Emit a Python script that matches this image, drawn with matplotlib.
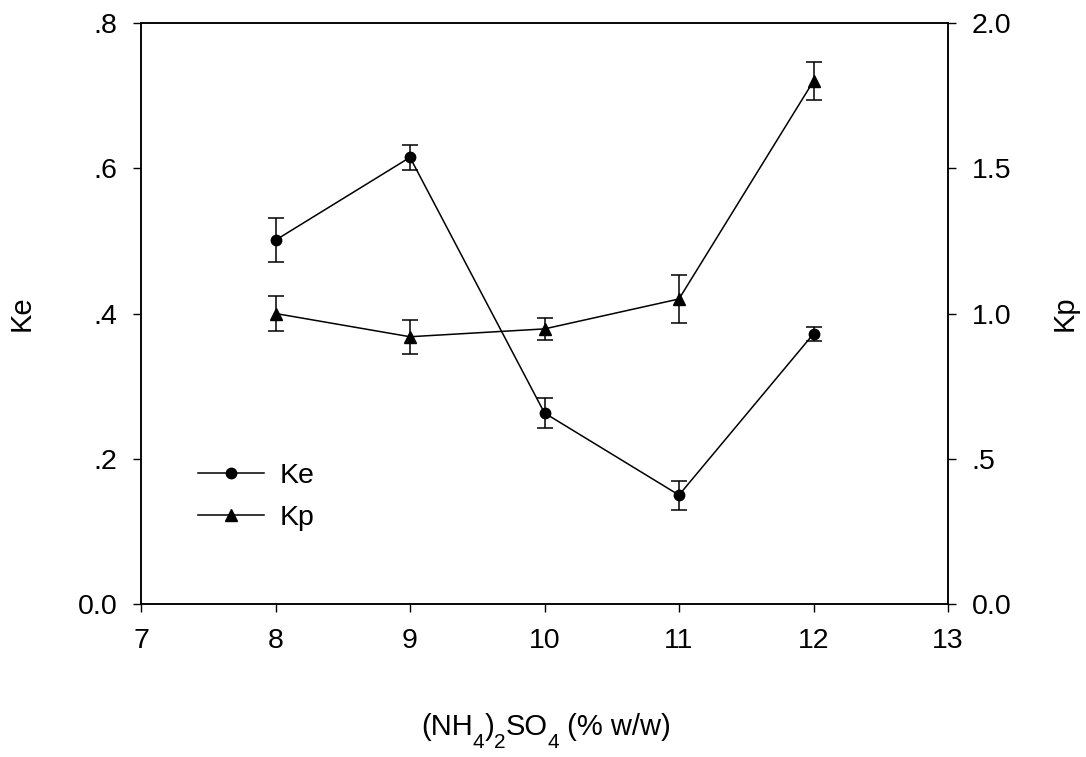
import numpy as np
import matplotlib.pyplot as plt
from matplotlib.lines import Line2D
from matplotlib.ticker import FixedLocator, FixedFormatter

plt.rcParams['font.family'] = ['Liberation Sans', 'DejaVu Sans']

# datos
conc = [8, 9, 10, 11, 12]
ke = [0.501, 0.615, 0.263, 0.150, 0.372]
ke_err = [0.030, 0.017, 0.020, 0.020, 0.010]
kp = [1.00, 0.92, 0.947, 1.05, 1.80]
kp_err = [0.060, 0.058, 0.038, 0.082, 0.065]

ke_ticks = [0.0, 0.2, 0.4, 0.6, 0.8]
ke_labels = ["0.0", ".2", ".4", ".6", ".8"]
kp_ticks = [0.0, 0.5, 1.0, 1.5, 2.0]
kp_labels = ["0.0", ".5", "1.0", "1.5", "2.0"]
x_ticks = [7, 8, 9, 10, 11, 12, 13]

W, H = 1086, 757
fig = plt.figure(figsize=(W / 100, H / 100), dpi=100)
ax = fig.add_axes([141 / W, 1 - 604 / H, (948 - 141) / W, (604 - 23) / H])
ax2 = ax.twinx()

estilo = dict(color="black", linewidth=1.1, elinewidth=1.1, capsize=6, capthick=1.1)
ax.errorbar(conc, ke, yerr=ke_err, marker="o", markersize=7.5, **estilo)
ax2.errorbar(conc, kp, yerr=kp_err, marker="^", markersize=8.5, **estilo)

ax.set_xlim(7, 13)
ax.set_ylim(0, 0.8)
ax2.set_ylim(0, 2.0)
ax.set_xticks(x_ticks)
ax.yaxis.set_major_locator(FixedLocator(ke_ticks))
ax.yaxis.set_major_formatter(FixedFormatter(ke_labels))
ax2.yaxis.set_major_locator(FixedLocator(kp_ticks))
ax2.yaxis.set_major_formatter(FixedFormatter(kp_labels))

for a in (ax, ax2):
    a.tick_params(direction="out", length=6, width=1.0, labelsize=20.5, pad=11)
    for s in a.spines.values():
        s.set_linewidth(1.1)

ax.set_ylabel("Ke", fontsize=21, labelpad=30)
ax2.set_ylabel("Kp", fontsize=21, labelpad=28)

# leyenda sin barras de error
h1 = Line2D([], [], color="black", lw=1.1, marker="o", markersize=7.5)
h2 = Line2D([], [], color="black", lw=1.1, marker="^", markersize=8.5)
ax.legend([h1, h2], ["Ke", "Kp"], loc="lower left", bbox_to_anchor=(0.057, 0.106),
          frameon=False, fontsize=20.5, handlelength=2.3, handletextpad=0.55,
          labelspacing=0.55, borderaxespad=0)

# etiqueta del eje x con subindices a mano
piezas = [("(NH", False), ("4", True), (")", False), ("2", True),
          ("SO", False), ("4", True), (" (% w/w)", False)]
renderer = fig.canvas.get_renderer()
textos = []
x0 = 0
for txt, sub in piezas:
    t = fig.text(0, 0, txt, fontsize=15 if sub else 21, transform=None)
    ancho = t.get_window_extent(renderer).width
    textos.append((t, x0, sub))
    x0 += ancho
centro = 546
base = H - 735
inicio = centro - x0 / 2
for t, dx, sub in textos:
    t.set_position((inicio + dx, base - 13 if sub else base))

fig.savefig("out.png", dpi=100)
